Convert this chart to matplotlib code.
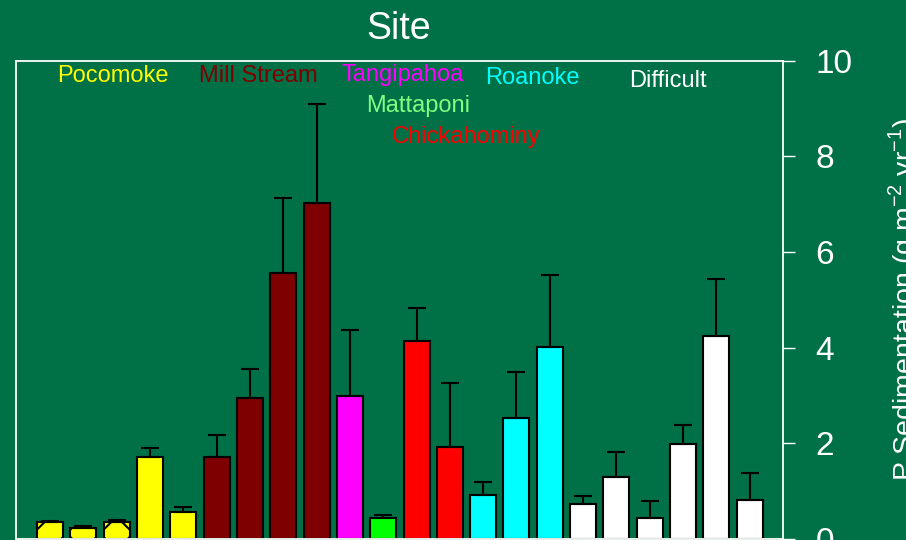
import numpy as np
import matplotlib
matplotlib.use("Agg")
import matplotlib.pyplot as plt

plt.rcParams["font.family"] = ["Liberation Sans", "DejaVu Sans"]
plt.rcParams["hatch.linewidth"] = 1.5

BG = "#007046"

# ----------------- data -----------------
sites = ["Pocomoke", "Mill Stream", "Tangipahoa", "Mattaponi", "Chickahominy", "Roanoke", "Difficult"]
site_colors = ["#ffff00", "#7f0000", "#ff00ff", "#00ff00", "#ff0000", "#00ffff", "#ffffff"]
label_colors = ["#ffff00", "#7f0000", "#ff00ff", "#80ff80", "#ff0000", "#00ffff", "#ffffff"]
n_per_site = [5, 4, 1, 1, 2, 3, 6]

psed = [0.36, 0.22, 0.35, 1.72, 0.56,
        1.71, 2.94, 5.56, 7.03,
        2.99,
        0.44,
        4.13, 1.92,
        0.91, 2.53, 4.02,
        0.74, 1.30, 0.43, 1.99, 4.25, 0.82]
psed_se = [0.02, 0.04, 0.04, 0.19, 0.11,
           0.47, 0.62, 1.56, 2.07,
           1.38,
           0.07,
           0.70, 1.34,
           0.27, 0.95, 1.50,
           0.15, 0.52, 0.37, 0.39, 1.19, 0.55]
hatches = ["/", "x", "x"] + [None] * 19

# ----------------- figure -----------------
W, H = 906, 540
fig = plt.figure(figsize=(W / 100, H / 100), dpi=100, facecolor=BG)
ax = fig.add_axes([16 / W, (H - 538.9) / H, (782.7 - 16) / W, (538.9 - 60.7) / H])
ax.set_facecolor(BG)

x = np.arange(len(psed))
cols = np.repeat(site_colors, n_per_site)
bars = ax.bar(x, psed, width=0.78, color=cols, edgecolor="k", linewidth=1.5, zorder=2)
for b, h in zip(bars, hatches):
    if h: b.set_hatch(h)
ax.errorbar(x, psed, yerr=[np.zeros(len(psed)), psed_se], fmt="none", ecolor="k",
            elinewidth=1.5, capsize=6.5, capthick=1.5, zorder=3)

ax.set_xlim(-1.02, 21.99)
ax.set_ylim(0, 10)
for s in ax.spines.values():
    s.set_color("white"); s.set_linewidth(1.3)
ax.set_xticks([])
ax.yaxis.tick_right()
ax.set_yticks([0, 2, 4, 6, 8, 10])
ax.tick_params(axis="y", colors="white", labelsize=24, length=8.6, width=1.0, pad=15)

# site names inside the plot (x center, baseline y in data units)
label_pos = [(1.875, 9.565), (6.255, 9.565), (10.575, 9.58), (11.055, 8.925),
             (12.48, 8.276), (14.475, 9.51), (18.55, 9.46)]
for name, c, (lx, ly) in zip(sites, label_colors, label_pos):
    ax.text(lx, ly, name, color=c, fontsize=17, ha="center", va="baseline")

fig.text(399 / W, 1 - 39.3 / H, "Site", color="white", fontsize=27, ha="center", va="baseline")
fig.text(886 / W, 1 - 299 / H, r"P Sedimentation (g m$^{\mathregular{-2}}$ yr$^{\mathregular{-1}}$)",
         color="white", fontsize=20.5, rotation=90, ha="left", va="center")

fig.savefig("out.png", dpi=100, facecolor=BG)
